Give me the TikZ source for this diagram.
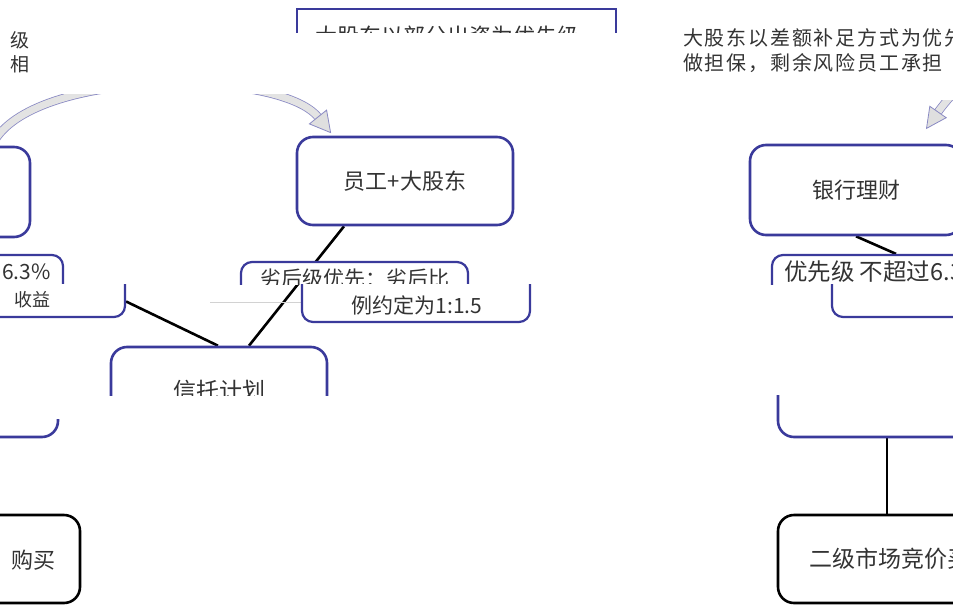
\documentclass[tikz,border=0pt]{standalone}
\usepackage{fontspec}
\setmainfont{Noto Sans CJK SC}
\newfontfamily\cjkspaced[LetterSpace=9]{Noto Sans CJK SC}
\usetikzlibrary{backgrounds}
\definecolor{bblue}{RGB}{58,58,155}
\begin{document}
\begin{tikzpicture}[x=1pt,y=-1pt,
  bigbox/.style={draw=bblue, line width=2.6pt, rounded corners=16pt, fill=white, inner sep=0pt, text=black!80},
  blkbox/.style={draw=black, line width=2.6pt, rounded corners=16pt, fill=white, inner sep=0pt, text=black!80},
  lblbox/.style={draw=bblue, line width=2.2pt, rounded corners=11pt, fill=white, inner sep=0pt},
  conn/.style={draw=black, line width=2.6pt},
  txt/.style={inner sep=0pt, text=black!80},
  big/.style={font=\fontsize{22}{26}\selectfont},
  mid/.style={font=\fontsize{21}{24}\selectfont},
  small/.style={font=\fontsize{18}{21}\selectfont},
  blockarrow/.style={draw=bblue!60, line width=0.8pt, fill=gray!25},
  blockshaft/.style={draw=bblue!60, line width=0.8pt, double=gray!22, double distance=7pt}
]
\useasboundingbox (0,0) rectangle (953,605);
\clip (0,0) rectangle (953,605);

% ---- top box (only its top strip is shown)
\begin{scope}
  \clip (0,0) rectangle (953,32);
  \node[draw=bblue, line width=2.6pt, minimum width=319pt, minimum height=80pt, inner sep=0pt] (topbox) at (456.5,49) {};
  \node[txt, big] (toptext) at (458,36) {大股东以部分出资为优先级，};
\end{scope}

% ---- top texts
\node[txt, font=\fontsize{19}{21}\selectfont] (tl1) at (20,40) {级};
\node[txt, font=\fontsize{19}{21}\selectfont] (tl2) at (20,64) {相};
\node[txt, anchor=west, font=\cjkspaced\fontsize{20}{23}\selectfont] (tr1) at (683,38) {大股东以差额补足方式为优先级};
\node[txt, anchor=west, font=\cjkspaced\fontsize{20}{23}\selectfont] (tr2) at (683,63) {做担保，剩余风险员工承担};

% ---- main boxes
\node[bigbox, minimum width=220pt, minimum height=90pt] (lb) at (-80,192) {};
\node[bigbox, minimum width=216pt, minimum height=88pt, big] (yg) at (405,181) {员工+大股东};
\node[bigbox, minimum width=212pt, minimum height=90pt, big] (yh) at (856,190) {银行理财};

% ---- label boxes, upper strip
\begin{scope}
  \clip (-10,0) rectangle (960,284.5);
  \node[lblbox, minimum width=213pt, minimum height=50pt] (lblL1) at (-43.5,280) {};
  \node[lblbox, minimum width=227pt, minimum height=50pt] (lblM1) at (354.5,287) {};
  \node[lblbox, minimum width=258pt, minimum height=50pt] (lblR1) at (901,280) {};
  \node[txt, anchor=east, mid] (tL1) at (51,272) {6.3\%};
  \node[txt, mid] (tM1) at (355,279) {劣后级优先：劣后比};
  \node[txt, anchor=west, font=\fontsize{23.5}{26}\selectfont] (tR1) at (784,272) {优先级 不超过6.3\%};
\end{scope}

% ---- label boxes, lower strip
\begin{scope}
  \clip (-10,284.5) rectangle (960,340);
  \node[lblbox, minimum width=225pt, minimum height=47pt] (lblL2) at (12.5,293.5) {};
  \node[lblbox, minimum width=228pt, minimum height=50pt] (lblM2) at (416,297) {};
  \node[lblbox, minimum width=258pt, minimum height=50pt] (lblR2) at (961,292) {};
  \node[txt, anchor=east, small] (tL2) at (51,300) {收益};
  \node[txt, mid] (tM2) at (417,305) {例约定为1:1.5};
\end{scope}

% ---- trust plan (upper part only)
\begin{scope}
  \clip (0,0) rectangle (953,395);
  \node[bigbox, minimum width=216pt, minimum height=88pt, font=\fontsize{23}{26}\selectfont] (xt) at (219,391) {信托计划};
\end{scope}

% ---- partial boxes (bottom edges)
\begin{scope}
  \clip (0,419) rectangle (953,460);
  \node[bigbox, minimum width=218pt, minimum height=88pt] (lb2) at (-51,393) {};
\end{scope}
\begin{scope}
  \clip (0,395) rectangle (953,460);
  \node[bigbox, minimum width=218pt, minimum height=88pt] (rb2) at (887,393) {};
\end{scope}

% ---- bottom boxes
\node[blkbox, minimum width=180pt, minimum height=88pt] (bl) at (-10,559) {};
\node[txt, big, anchor=east] (blt) at (56,560) {购买};
\node[blkbox, minimum width=246pt, minimum height=88pt, font=\fontsize{23}{26}\selectfont] (br) at (901,559) {二级市场竞价买入};

% ---- connectors
\begin{scope}[on background layer]
  \draw[conn] ([xshift=-61pt]yg.south) -- ([xshift=30pt]xt.north);
  \draw[conn] ([yshift=-8pt]lblL2.east) -- ([xshift=-1pt]xt.north);
  \draw[conn] (yh.south) -- ([xshift=-5pt]lblR1.north);
  \draw[conn] (rb2.south) -- (rb2.south |- br.north);
  \coordinate (g0) at (210,302);
  \draw[gray!35, line width=1pt] (g0) -- (g0 -| lblM2.west);
\end{scope}

% ---- curved block arrows
\coordinate (la0) at (-5,140);
\coordinate (la1) at (318,117);
\begin{scope}
  \clip (-20,94) rectangle (953,200);
  \draw[blockshaft] (la0) .. controls (40,68) and (280,70) .. (la1);
\end{scope}
\filldraw[blockarrow] (309.4,123.9) -- (330.6,132.6) -- (326.6,110.1) -- cycle;

\coordinate (ra0) at (1010,50);
\coordinate (ra1) at (938,112);
\begin{scope}
  \clip (900,100) rectangle (953,140);
  \draw[blockshaft] (ra0) .. controls (985,60) and (952,92) .. (ra1);
  \filldraw[blockarrow] (946.2,117.7) -- (926.5,128.4) -- (929.8,106.3) -- cycle;
\end{scope}
\end{tikzpicture}
\end{document}
